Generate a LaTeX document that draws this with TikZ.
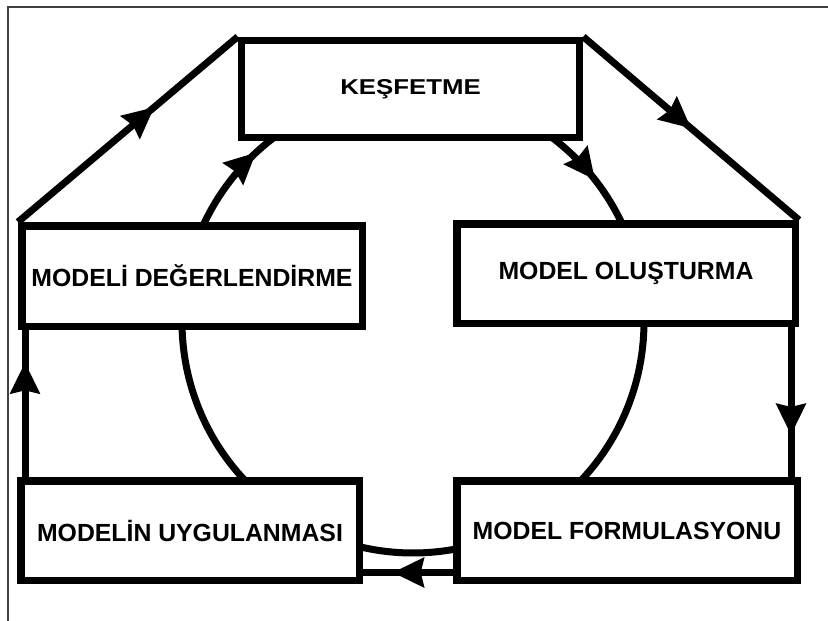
\documentclass[tikz,border=0pt]{standalone}
\usepackage{fontspec}
\setmainfont{Liberation Sans}
\usepackage{graphicx}
\usetikzlibrary{arrows.meta,decorations.markings,calc}
\pgfdeclarelayer{background}
\pgfsetlayers{background,main}
\begin{document}
\begin{tikzpicture}[x=1pt,y=1pt,
  stage/.style={draw, line width=7.5pt, fill=white, inner sep=0pt,
    font=\bfseries\fontsize{24.8}{30}\selectfont},
  link/.style={line width=7pt},
  flowtip/.style={postaction={decorate}, decoration={markings,
    mark=at position #1 with {\arrow{Stealth[length=31pt,width=29pt,inset=3pt]}}}}]
\useasboundingbox (0,0) rectangle (828,-621);

% window edge
\draw[black!75, line width=2pt] (8,-621) -- (8,-7) -- (828,-7);

% stages of the modelling cycle
\node[stage, minimum width=338pt, minimum height=97pt] (kes) at (410.5,-89)
  {\scalebox{1.2}[1]{\fontsize{21.5}{25}\selectfont KEŞFETME}};
\node[stage, minimum width=340.5pt, minimum height=100.5pt] (deg) at (192,-276) {MODELİ DEĞERLENDİRME};
\node[stage, minimum width=338.5pt, minimum height=99.5pt] (olu) at (626,-273.5) {MODEL OLUŞTURMA};
\node[stage, minimum width=338.5pt, minimum height=99.5pt] (uyg) at (190,-530.5) {MODELİN UYGULANMASI};
\node[stage, minimum width=340.5pt, minimum height=99.5pt] (frm) at (627,-530.5) {MODEL FORMULASYONU};

\begin{pgfonlayer}{background}
  % outer loop
  \draw[link, flowtip=0.62] (deg.north west) -- (kes.north west);
  \draw[link, flowtip=0.5] (kes.north east) -- (olu.north east);
  \draw[link, flowtip=0.72] ($(olu.south east)+(-8,0)$) coordinate (r1) -- (r1 |- frm.north);
  \draw[link, flowtip=0.67] ($(frm.west)+(0,-42)$) coordinate (b1) -- (b1 -| uyg.east);
  \draw[link, flowtip=0.78] ($(uyg.north west)+(8,0)$) coordinate (l1) -- (l1 |- deg.south);

  % inner circle through the stages
  \coordinate (ctr) at (413,-322);
  \path (ctr) ++(155.2:231) coordinate (c1);
  \path (ctr) ++(52.8:231) coordinate (c2);
  \path (ctr) ++(-0.5:231) coordinate (c3);
  \path (ctr) ++(181.2:231) coordinate (c4);
  \path (ctr) ++(256.7:231) coordinate (c5);
  \draw[link, flowtip=0.8] (c1) arc[start angle=155.2, end angle=127.2, radius=231];
  \draw[link, flowtip=0.54] (c2) arc[start angle=52.8, end angle=25.4, radius=231];
  \draw[link] (c3) arc[start angle=-0.5, end angle=-43.2, radius=231];
  \draw[link] (c4) arc[start angle=181.2, end angle=223.2, radius=231];
  \draw[link] (c5) arc[start angle=256.7, end angle=280.7, radius=231];
\end{pgfonlayer}
\end{tikzpicture}
\end{document}
